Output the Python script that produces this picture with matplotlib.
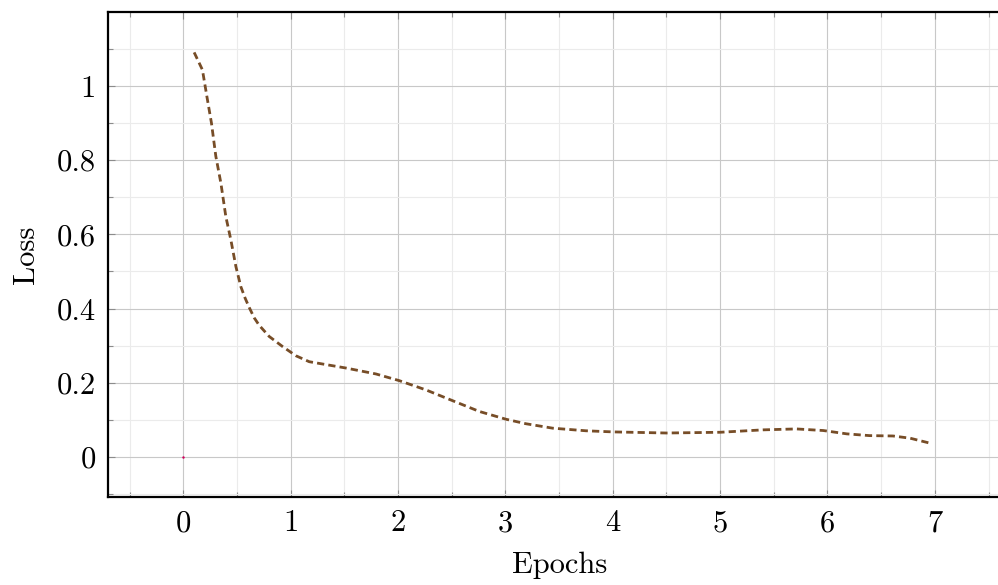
import matplotlib.pyplot as plt
from matplotlib.ticker import MultipleLocator, FuncFormatter

plt.rcParams['font.family'] = ['cmr10', 'DejaVu Serif']
plt.rcParams['mathtext.fontset'] = 'cm'
plt.rcParams['axes.formatter.use_mathtext'] = True

# training loss over epochs
epochs = [0.10, 0.177, 0.224, 0.261, 0.302, 0.349, 0.395, 0.442, 0.489, 0.535,
          0.575, 0.613, 0.66, 0.706, 0.799, 0.923, 1.048, 1.172, 1.514, 1.794,
          2.011, 2.260, 2.508, 2.757, 3.006, 3.19, 3.44, 3.75, 4.0, 4.5, 5.0,
          5.40, 5.71, 5.96, 6.18, 6.39, 6.61, 6.77, 6.95]
loss = [1.090, 1.043, 0.962, 0.900, 0.810, 0.738, 0.648, 0.585, 0.513, 0.459,
        0.428, 0.403, 0.375, 0.355, 0.325, 0.298, 0.273, 0.257, 0.240, 0.224,
        0.206, 0.181, 0.152, 0.123, 0.102, 0.090, 0.078, 0.071, 0.068, 0.065,
        0.067, 0.0735, 0.076, 0.0717, 0.0627, 0.058, 0.057, 0.051, 0.038]

# single reference point at the origin
ref_x = [0]
ref_y = [0]

fig = plt.figure(figsize=(9.98, 5.85), dpi=100)
ax = fig.add_axes([0.1085, 0.15, 0.9035, 0.829])

ax.plot(epochs, loss, color='#774d27', linewidth=2.0, linestyle=(0, (2.6, 1.5)))
ax.plot(ref_x, ref_y, marker='s', markersize=0.7, color='#d0005a', linestyle='none')

ax.set_xlim(-0.7, 7.7)
ax.set_ylim(-0.108, 1.198)

ax.xaxis.set_major_locator(MultipleLocator(1))
ax.xaxis.set_minor_locator(MultipleLocator(0.5))
ax.yaxis.set_major_locator(MultipleLocator(0.2))
ax.yaxis.set_minor_locator(MultipleLocator(0.1))
fmt = FuncFormatter(lambda v, p: '%g' % round(v, 3))
ax.xaxis.set_major_formatter(fmt)
ax.yaxis.set_major_formatter(fmt)

ax.grid(which='major', color='#c8c8c8', linewidth=0.8)
ax.grid(which='minor', color='#ebebeb', linewidth=0.8)
ax.set_axisbelow(True)

ax.tick_params(which='both', direction='in', top=True, right=True,
               color='#8c8c8c', width=0.8, labelsize=22, pad=9)
ax.tick_params(which='major', length=5)
ax.tick_params(which='minor', length=3.5)

for s in ax.spines.values():
    s.set_linewidth(1.6)
    s.set_color('black')

ax.set_xlabel('Epochs', fontsize=22, labelpad=10)
ax.set_ylabel('Loss', fontsize=22, labelpad=12)

plt.savefig('out.png', dpi=100)
